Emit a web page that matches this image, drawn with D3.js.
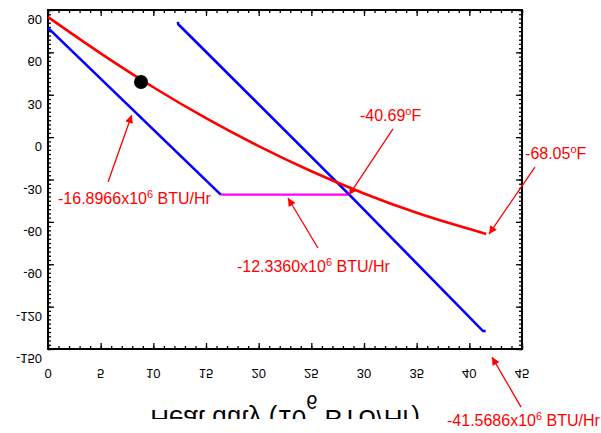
<!DOCTYPE html>
<html>
<head>
<meta charset="utf-8">
<script src="https://cdn.jsdelivr.net/npm/d3@7"></script>
<style>
  body { margin: 0; background: #fff; }
  text { font-family: "Liberation Sans", Arial, sans-serif; }
</style>
</head>
<body>
<div id="chart-area"></div>
<script>
/* chart values */
var xTicks = [0, 5, 10, 15, 20, 25, 30, 35, 40, 45];
var yTicks = [90, 60, 30, 0, -30, -60, -90, -120, -150];

var redX = [0, 5, 10, 15, 20, 25, 30, 35, 41.6];
var redY = [85, 59.3, 35.3, 13.4, -6.4, -24.2, -39.9, -53.6, -68.5];

var blue1X = [0, 16.4];
var blue1Y = [77.3, -40.69];

var blue2X = [12.33, 12.37, 28.6, 41.3, 41.55];
var blue2Y = [81.6, 79.9, -40.69, -137.3, -137.3];

var pinchX = [16.4, 28.6];
var pinchY = [-40.69, -40.69];

var dotX = [8.83];
var dotY = [39];

/* annotations: label pieces, text anchor, arrow tail and tip (data units) */
var noteMain = ["-16.8966x10", "-12.3360x10", "-40.69", "-68.05", "-41.5686x10"];
var noteSup = ["6", "6", "o", "o", "6"];
var noteTail = [" BTU/Hr", " BTU/Hr", "F", "F", " BTU/Hr"];
var noteTextX = [0.95, 17.94, 29.62, 45.29, 37.88];
var noteTextY = [-47.4, -95.5, 11.4, -15.5, -204.5];
var arrowFromX = [5.70, 25.63, 32.75, 46.23, 44.91];
var arrowFromY = [-31.8, -78.5, 5.8, -21.2, -191.1];
var arrowToX = [7.95, 22.78, 28.58, 41.87, 42.15];
var arrowToY = [15.7, -43.1, -41.0, -68.6, -155.7];

var width = 601;
var height = 433;
var margin = {left: 48, right: 79, top: 10, bottom: 84};

var svg = d3.select("#chart-area")
    .append("svg")
    .attr("width", width)
    .attr("height", height);

var x = d3.scaleLinear().domain([0, 45]).range([margin.left, width - margin.right]);
var y = d3.scaleLinear().domain([90, -150]).range([margin.top, height - margin.bottom]);

/* ticks on all four sides, pointing in */
function ticksOn(axisFn, pos, values, size) {
    var g = svg.append("g")
        .attr("transform", pos)
        .call(axisFn.tickValues(values).tickSize(-size).tickFormat(""));
    g.select(".domain").remove();
    g.selectAll("line").attr("stroke", "#000").attr("stroke-width", 1.3);
}
var xMinor = d3.range(0, 46, 1);
var yMinor = d3.range(-150, 91, 3);
var bottomPos = "translate(0," + y(-150) + ")";
var topPos = "translate(0," + y(90) + ")";
var leftPos = "translate(" + x(0) + ",0)";
var rightPos = "translate(" + x(45) + ",0)";
ticksOn(d3.axisBottom(x), bottomPos, xMinor, 3);
ticksOn(d3.axisBottom(x), bottomPos, xTicks, 6);
ticksOn(d3.axisTop(x), topPos, xMinor, 3);
ticksOn(d3.axisTop(x), topPos, xTicks, 6);
ticksOn(d3.axisLeft(y), leftPos, yMinor, 3);
ticksOn(d3.axisLeft(y), leftPos, yTicks, 6);
ticksOn(d3.axisRight(y), rightPos, yMinor, 3);
ticksOn(d3.axisRight(y), rightPos, yTicks, 6);

/* frame */
svg.append("rect")
    .attr("x", x(0))
    .attr("y", y(90))
    .attr("width", x(45) - x(0))
    .attr("height", y(-150) - y(90))
    .attr("fill", "none")
    .attr("stroke", "#000")
    .attr("stroke-width", 2);

/* tick labels - the reference has them flipped upside down */
svg.append("g").selectAll("text")
    .data(xTicks)
    .enter().append("text")
    .attr("transform", d => "translate(" + x(d) + "," + (y(-150) + 20) + ") scale(1,-1)")
    .attr("text-anchor", "middle")
    .style("font-size", "13px")
    .attr("fill", "#000")
    .text(d => d);

svg.append("g").selectAll("text")
    .data(yTicks)
    .enter().append("text")
    .attr("transform", d => "translate(" + (x(0) - 6) + "," + (y(d) + 5) + ") scale(1,-1)")
    .attr("text-anchor", "end")
    .style("font-size", "13px")
    .attr("fill", "#000")
    .text(d => d);

/* axis title, flipped and cut off at the bottom */
svg.append("clipPath").attr("id", "titleClip")
    .append("rect")
    .attr("x", 0).attr("y", 380).attr("width", width).attr("height", 39);

var titleG = svg.append("g").attr("clip-path", "url(#titleClip)");
var titleText = titleG.append("text")
    .attr("transform", "translate(" + ((x(0) + x(45)) / 2) + ",410) scale(1,-1)")
    .attr("text-anchor", "middle")
    .style("font-size", "26px")
    .attr("fill", "#000");
titleText.append("tspan").text("Heat duty (10");
titleText.append("tspan").attr("dy", 15).style("font-size", "20px").text("6");
titleText.append("tspan").attr("dy", -15).text(" BTU/Hr)");

/* curves */
function pts(xs, ys) {
    return xs.map((v, i) => [v, ys[i]]);
}
var smooth = d3.line().x(d => x(d[0])).y(d => y(d[1])).curve(d3.curveMonotoneX);
var straight = d3.line().x(d => x(d[0])).y(d => y(d[1]));

svg.append("path")
    .attr("d", straight(pts(pinchX, pinchY)))
    .attr("fill", "none")
    .attr("stroke", "#ff00ff")
    .attr("stroke-width", 2.2);

svg.append("path")
    .attr("d", straight(pts(blue1X, blue1Y)))
    .attr("fill", "none")
    .attr("stroke", "#0000ff")
    .attr("stroke-width", 2.6);

svg.append("path")
    .attr("d", straight(pts(blue2X, blue2Y)))
    .attr("fill", "none")
    .attr("stroke", "#0000ff")
    .attr("stroke-width", 2.6);

svg.append("path")
    .attr("d", smooth(pts(redX, redY)))
    .attr("fill", "none")
    .attr("stroke", "#ff0000")
    .attr("stroke-width", 2.6);

svg.selectAll(".dot")
    .data(dotX)
    .enter().append("circle")
    .attr("class", "dot")
    .attr("cx", d => x(d))
    .attr("cy", (d, i) => y(dotY[i]))
    .attr("r", 7)
    .attr("fill", "#000");

/* annotation arrows + labels */
svg.append("defs").append("marker")
    .attr("id", "head")
    .attr("viewBox", "0 0 10 10")
    .attr("refX", 10)
    .attr("refY", 5)
    .attr("markerWidth", 10)
    .attr("markerHeight", 8)
    .attr("markerUnits", "userSpaceOnUse")
    .attr("orient", "auto")
    .append("path")
    .attr("d", "M0,0 L10,5 L0,10 z")
    .attr("fill", "#ff0000");

svg.append("g").selectAll("line")
    .data(noteMain)
    .enter().append("line")
    .attr("x1", (d, i) => x(arrowFromX[i]))
    .attr("y1", (d, i) => y(arrowFromY[i]))
    .attr("x2", (d, i) => x(arrowToX[i]))
    .attr("y2", (d, i) => y(arrowToY[i]))
    .attr("stroke", "#ff0000")
    .attr("stroke-width", 1.3)
    .attr("marker-end", "url(#head)");

var notes = svg.append("g").selectAll("text")
    .data(noteMain)
    .enter().append("text")
    .attr("x", (d, i) => x(noteTextX[i]))
    .attr("y", (d, i) => y(noteTextY[i]))
    .attr("fill", "#ff0000")
    .style("font-size", "16px");
notes.append("tspan").text(d => d);
notes.append("tspan").attr("dy", -6).style("font-size", "11px").text((d, i) => noteSup[i]);
notes.append("tspan").attr("dy", 6).text((d, i) => noteTail[i]);
</script>
</body>
</html>
